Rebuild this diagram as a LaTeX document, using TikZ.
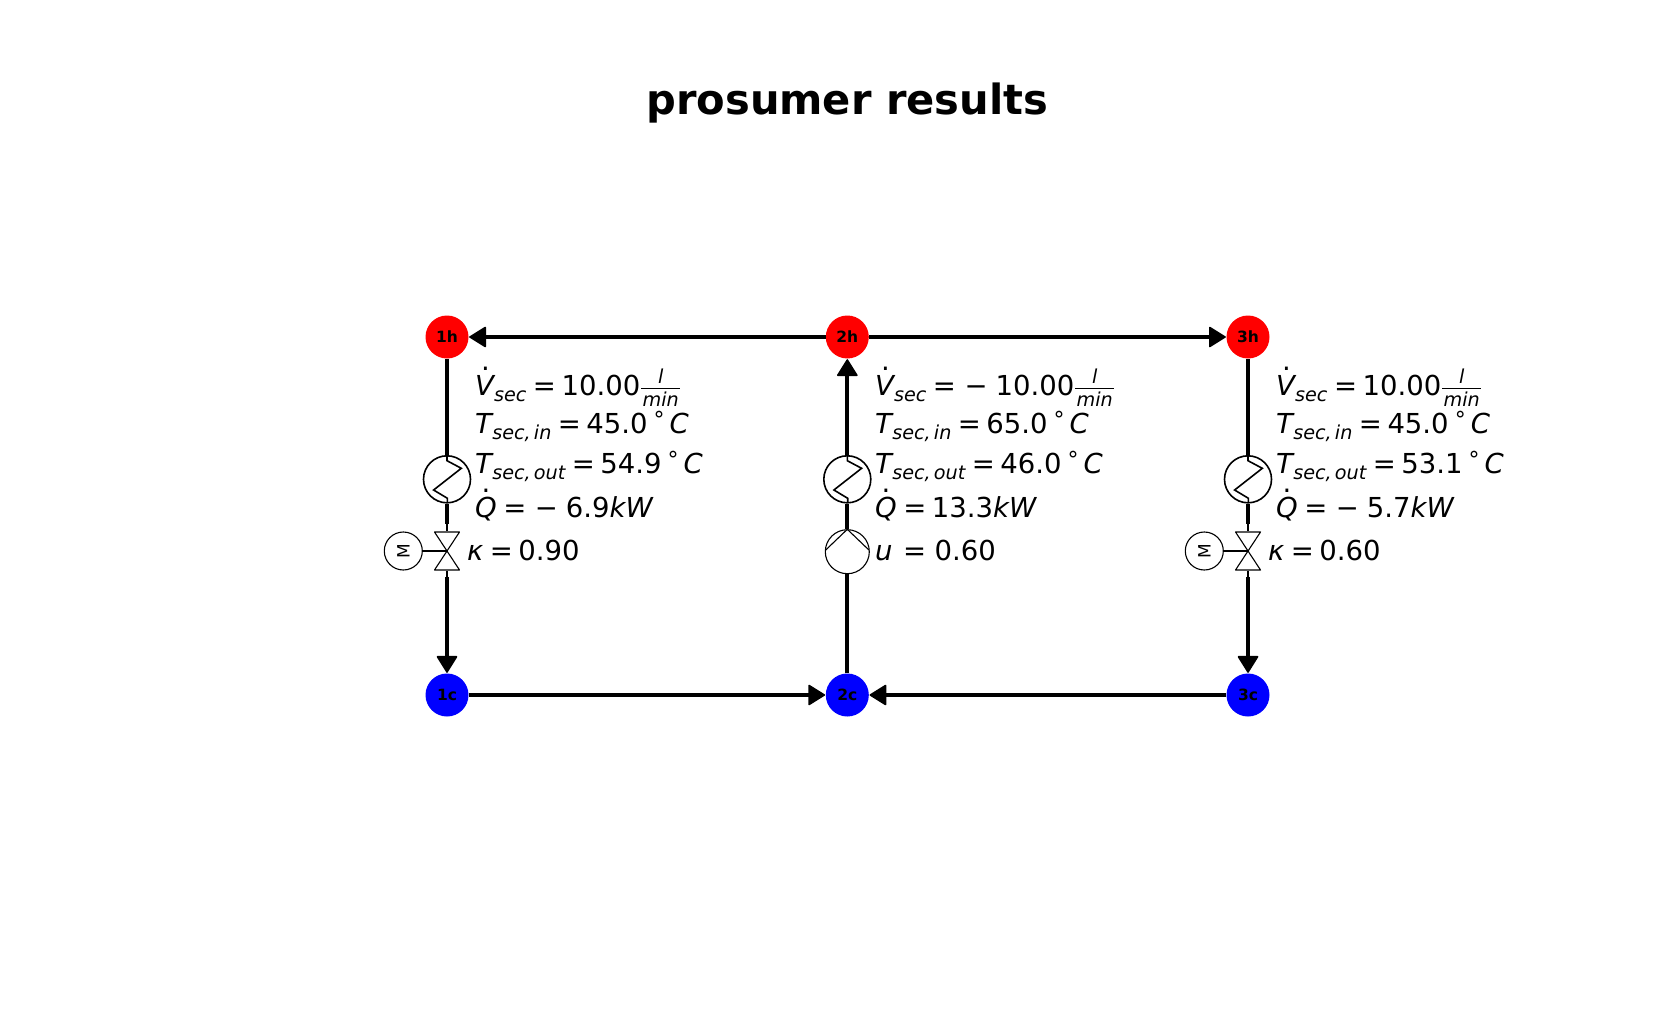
\documentclass[tikz,border=0pt]{standalone}
\usepackage{fontspec}
\setmainfont{DejaVu Sans}
\usetikzlibrary{arrows.meta}
\newcommand{\subtext}[1]{\hspace{-1.5pt}\raisebox{-6pt}{\fontsize{19.2}{20}\selectfont\itshape #1}}
\newcommand{\dotted}[1]{\ooalign{\hfil\raisebox{25pt}{\upshape.}\hfil\cr#1\cr}}
\newcommand{\eqsign}{\hspace{6.5pt}=\hspace{5.5pt}}
\newcommand{\degC}{\hspace{6pt}\raisebox{6pt}{\fontsize{22}{22}\selectfont°}\hspace{5pt}\textit{C}}
\newcommand{\perminute}{\hspace{1pt}\rlap{\makebox[39pt]{\fontsize{19.2}{20}\selectfont\raisebox{11.7pt}{\itshape l}}}%
  \rlap{\raisebox{6.4pt}{\rule{39pt}{1pt}}}%
  \makebox[39pt]{\fontsize{19.2}{20}\selectfont\raisebox{-11pt}{\itshape min}}}
\tikzset{junction/.style={circle,inner sep=0pt,minimum size=43pt,font=\fontsize{15.5}{16}\selectfont\bfseries},
         hot/.style={junction,fill=red},
         cold/.style={junction,fill=blue},
         pipe/.style={line width=4.2pt},
         flow/.style={pipe,-{Triangle[length=17.5pt,width=21.5pt,line width=1.5pt,round]},shorten >=0.5pt},
         stem/.style={line width=1.1pt},
         hxer/.style={circle,draw,line width=1.6pt,inner sep=0pt,minimum size=47pt,
           path picture={\draw[line width=1.6pt,shift={(path picture bounding box.center)}]
             (0,-25) -- (0,-18.6) -- (14.3,-11) -- (-13.4,10.7) -- (0.4,19) -- (0.4,25);}},
         pumpsym/.style={circle,draw,stem,inner sep=0pt,minimum size=44pt,
           path picture={\draw[stem,shift={(path picture bounding box.center)}]
             (-21.6,-1.7) -- (0,-22.4) -- (21.6,-1.7);}},
         valvesym/.style={inner sep=0pt,minimum width=28pt,minimum height=39.4pt,
           path picture={\draw[stem,line join=round,shift={(path picture bounding box.center)}]
             (-12.5,-19) -- (12.5,-19) -- (-12.5,19) -- (12.5,19) -- cycle;}},
         motor/.style={circle,draw,stem,inner sep=0pt,minimum size=38pt,rotate=90,font=\fontsize{17}{17}\selectfont},
         result/.style={anchor=base west,inner sep=0pt,font=\fontsize{27.5}{30}\selectfont}}
\begin{document}
\begin{tikzpicture}[x=1pt,y=-1pt]
    \useasboundingbox (0,0) rectangle (1653,1022);
    \node[anchor=base,inner sep=0pt,font=\fontsize{41.6}{44}\selectfont\bfseries] (title) at (847.3,115) {prosumer results};
    % supply and return junctions
    \node[hot] (1h) at (447,337) {1h};
    \node[hot] (2h) at (847.3,337) {2h};
    \node[hot] (3h) at (1248,337) {3h};
    \node[cold] (1c) at (447,695) {1c};
    \node[cold] (2c) at (847.3,695) {2c};
    \node[cold] (3c) at (1248,695) {3c};
    % units
    \node[hxer] (hx1) at (447,479.3) {};
    \node[hxer] (hx2) at (847.3,479.3) {};
    \node[hxer] (hx3) at (1248,479.3) {};
    \node[valvesym] (valve1) at (447,551) {};
    \node[valvesym] (valve3) at (1248,551) {};
    \node[motor] (motor1) at (403.3,551) {M};
    \node[motor] (motor3) at (1204.3,551) {M};
    \node[pumpsym] (pump2) at (847.3,551.7) {};
    \coordinate (in1) at (447,524);
    \coordinate (in3) at (1248,524);
    \coordinate (out1) at (447,577);
    \coordinate (out3) at (1248,577);
    % pipes
    \draw[flow] (2h) -- (1h);
    \draw[flow] (2h) -- (3h);
    \draw[flow] (1c) -- (2c);
    \draw[flow] (3c) -- (2c);
    \draw[pipe] (1h) -- (hx1);
    \draw[pipe] (3h) -- (hx3);
    \draw[pipe] (hx1) -- (in1);
    \draw[pipe] (hx3) -- (in3);
    \draw[stem] (in1) -- (valve1);
    \draw[stem] (in3) -- (valve3);
    \draw[stem] (valve1) -- (out1);
    \draw[stem] (valve3) -- (out3);
    \draw[flow] (out1) -- (1c);
    \draw[flow] (out3) -- (3c);
    \draw[stem] (motor1) -- (valve1.center);
    \draw[stem] (motor3) -- (valve3.center);
    \draw[pipe] (2c) -- (pump2);
    \draw[pipe] (pump2) -- (hx2);
    \draw[flow] (hx2) -- (2h);
    % values
    \foreach \col/\xpos/\vol/\tin/\tout/\heat in {
        1/475/10.00/45.0/54.9/\hspace{3pt}−\hspace{8pt}6.9,
        2/875/\hspace{3pt}−\hspace{8pt}10.00/65.0/46.0/13.3,
        3/1276/10.00/45.0/53.1/\hspace{3pt}−\hspace{8pt}5.7}{
      \node[result] (vol\col) at (\xpos,395) {\dotted{\textit{V}}\subtext{sec}\eqsign\vol\perminute};
      \node[result] (tin\col) at (\xpos,433.3) {\textit{T}\subtext{sec,\,in}\eqsign\tin\degC};
      \node[result] (tout\col) at (\xpos,473) {\textit{T}\subtext{sec,\,out}\eqsign\tout\degC};
      \node[result] (heat\col) at (\xpos,517) {\dotted{\textit{Q}}\eqsign\heat\textit{kW}};
    }
    \node[result] (kappa1) at (467,560) {\textit{κ}\eqsign0.90};
    \node[result] (speed2) at (875,560) {\textit{u}\hspace{4pt}\eqsign\hspace{3pt}0.60};
    \node[result] (kappa3) at (1268,560) {\textit{κ}\eqsign0.60};
\end{tikzpicture}
\end{document}
